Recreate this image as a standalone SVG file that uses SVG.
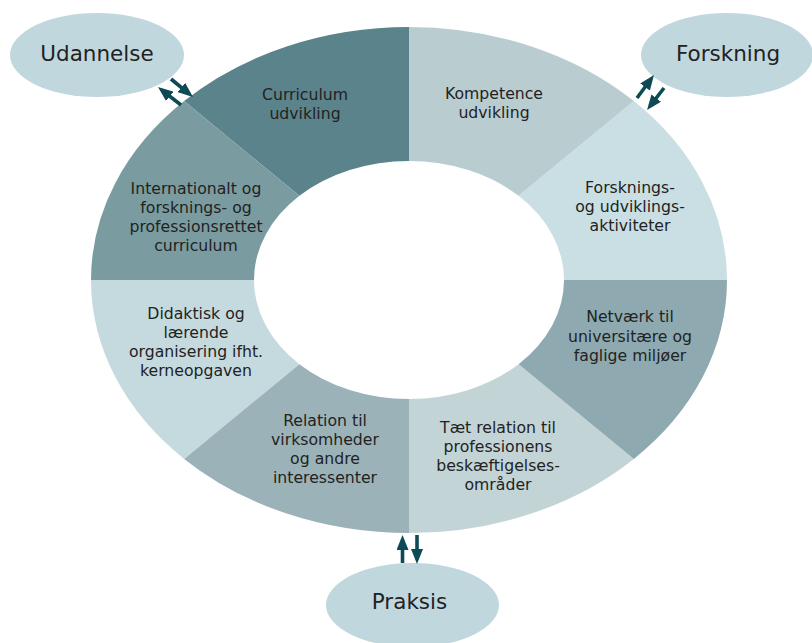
<svg xmlns="http://www.w3.org/2000/svg" width="812" height="643" viewBox="0 0 812 643">
<style>
.lbl{font-family:"DejaVu Sans","Liberation Sans",sans-serif;font-size:15.7px;fill:#222;text-anchor:middle}
.big{font-family:"DejaVu Sans","Liberation Sans",sans-serif;font-size:21.5px;fill:#222;text-anchor:middle}
.bub{fill:#c0d7dd}
.arr{stroke:#0d4a55;stroke-width:3.6;fill:none;marker-end:url(#ah)}
</style>
<defs>
<marker id="ah" markerUnits="userSpaceOnUse" markerWidth="15" markerHeight="12" refX="10" refY="6" orient="auto">
<path d="M0,0 L15,6 L0,12 Z" fill="#0d4a55"/>
</marker>
</defs>
<rect width="812" height="643" fill="#ffffff"/>
<g id="ring">
<g id="curriculum-udvikling">
<path d="M409 27 A318 253 0 0 0 184.14 101.1 L299.4 195.85 A155 119 0 0 1 409 161 Z" fill="#5b838b"/>
<text class="lbl" x="305" y="100">Curriculum</text>
<text class="lbl" x="305" y="119">udvikling</text>
</g>
<g id="internationalt">
<path d="M184.14 101.1 A318 253 0 0 0 91 280 L254 280 A155 119 0 0 1 299.4 195.85 Z" fill="#7a9ca1"/>
<text class="lbl" x="196" y="194">Internationalt og</text>
<text class="lbl" x="196" y="213">forsknings- og</text>
<text class="lbl" x="196" y="232">professionsrettet</text>
<text class="lbl" x="196" y="251">curriculum</text>
</g>
<g id="didaktisk">
<path d="M91 280 A318 253 0 0 0 184.14 458.9 L299.4 364.15 A155 119 0 0 1 254 280 Z" fill="#c5dadf"/>
<text class="lbl" x="196" y="319">Didaktisk og</text>
<text class="lbl" x="196" y="338">lærende</text>
<text class="lbl" x="196" y="357">organisering ifht.</text>
<text class="lbl" x="196" y="376">kerneopgaven</text>
</g>
<g id="relation-virksomheder">
<path d="M184.14 458.9 A318 253 0 0 0 409 533 L409 399 A155 119 0 0 1 299.4 364.15 Z" fill="#9bb3b8"/>
<text class="lbl" x="325" y="426">Relation til</text>
<text class="lbl" x="325" y="445">virksomheder</text>
<text class="lbl" x="325" y="464">og andre</text>
<text class="lbl" x="325" y="483">interessenter</text>
</g>
<g id="taet-relation">
<path d="M409 533 A318 253 0 0 0 633.86 458.9 L518.6 364.15 A155 119 0 0 1 409 399 Z" fill="#c3d4d7"/>
<text class="lbl" x="498" y="433">Tæt relation til</text>
<text class="lbl" x="498" y="452">professionens</text>
<text class="lbl" x="498" y="471">beskæftigelses-</text>
<text class="lbl" x="498" y="490">områder</text>
</g>
<g id="netvaerk">
<path d="M633.86 458.9 A318 253 0 0 0 727 280 L564 280 A155 119 0 0 1 518.6 364.15 Z" fill="#8eaab0"/>
<text class="lbl" x="630" y="322">Netværk til</text>
<text class="lbl" x="630" y="342">universitære og</text>
<text class="lbl" x="630" y="361">faglige miljøer</text>
</g>
<g id="forsknings-udviklingsaktiviteter">
<path d="M727 280 A318 253 0 0 0 633.86 101.1 L518.6 195.85 A155 119 0 0 1 564 280 Z" fill="#cadfe3"/>
<text class="lbl" x="630" y="193">Forsknings-</text>
<text class="lbl" x="630" y="212">og udviklings-</text>
<text class="lbl" x="630" y="231">aktiviteter</text>
</g>
<g id="kompetence-udvikling">
<path d="M633.86 101.1 A318 253 0 0 0 409 27 L409 161 A155 119 0 0 1 518.6 195.85 Z" fill="#b9cdd1"/>
<text class="lbl" x="494" y="99">Kompetence</text>
<text class="lbl" x="494" y="118">udvikling</text>
</g>
</g>
<g id="udannelse">
<ellipse class="bub" cx="97" cy="55" rx="87" ry="42"/>
<text class="big" x="97" y="61">Udannelse</text>
</g>
<g id="forskning">
<ellipse class="bub" cx="727" cy="55" rx="86" ry="42"/>
<text class="big" x="728" y="61">Forskning</text>
</g>
<g id="praksis">
<ellipse class="bub" cx="412.5" cy="605" rx="86.5" ry="42"/>
<text class="big" x="409.5" y="609">Praksis</text>
</g>
<g id="connectors">
<line class="arr" x1="171" y1="79" x2="189.1" y2="93.8"/>
<line class="arr" x1="181" y1="105" x2="161.9" y2="90.1"/>
<line class="arr" x1="637" y1="98" x2="651" y2="79"/>
<line class="arr" x1="664" y1="88" x2="650.1" y2="106"/>
<line class="arr" x1="402.5" y1="563" x2="402.5" y2="540"/>
<line class="arr" x1="417" y1="535" x2="417" y2="559"/>
</g>
</svg>
